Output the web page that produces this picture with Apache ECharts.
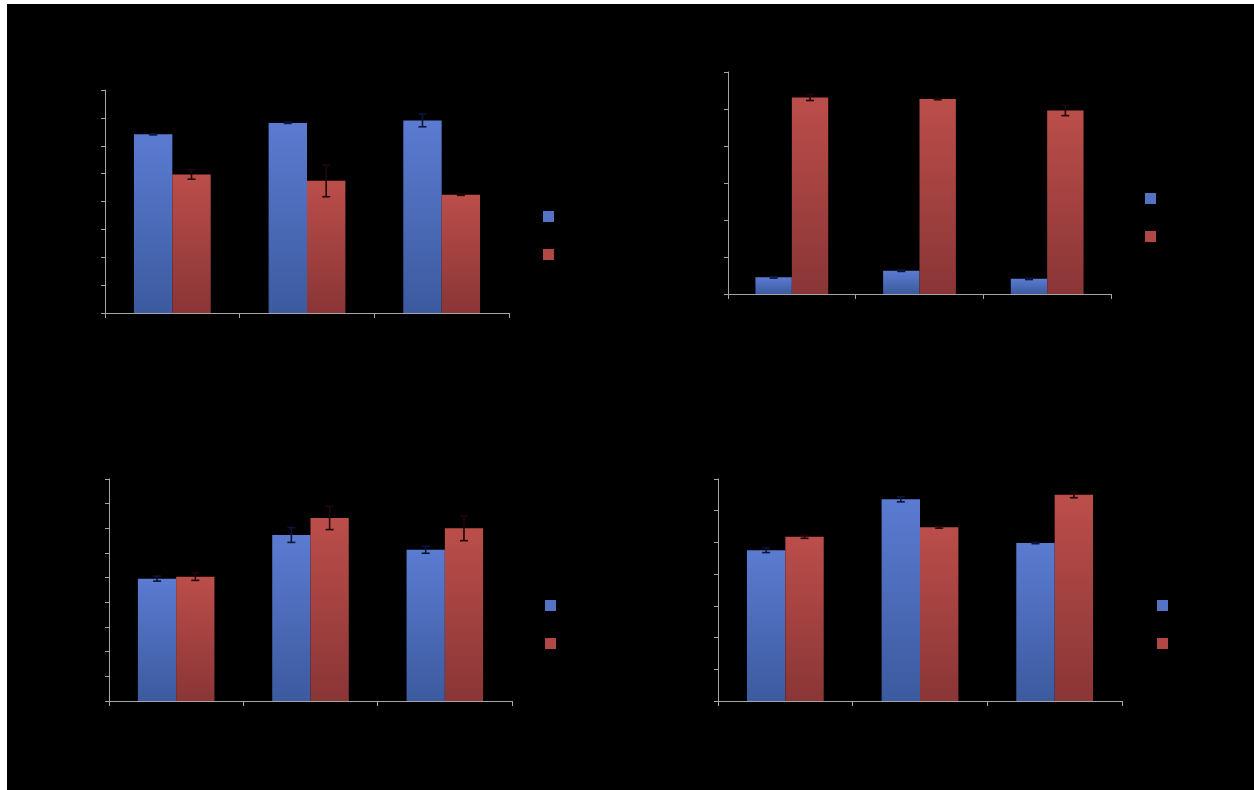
<!DOCTYPE html>
<html>
<head>
<meta charset="utf-8">
<script src="https://cdn.jsdelivr.net/npm/echarts@6/dist/echarts.min.js"></script>
<style>
  html, body { margin: 0; padding: 0; background: #ffffff; width: 1254px; height: 790px; overflow: hidden; }
  #chart { position: absolute; left: 7px; top: 4px; width: 1247px; height: 786px; }
</style>
</head>
<body>
<div id="chart"></div>
<script>
// ---- data ----
const categories = ['A', 'B', 'C'];
const seriesNames = ['Series 1', 'Series 2'];

const p1Blue = [6.41, 6.82, 6.91];
const p1BlueErr = [0.02, 0.02, 0.23];
const p1Red = [4.97, 4.74, 4.24];
const p1RedErr = [0.17, 0.57, 0.02];

const p2Blue = [0.45, 0.63, 0.41];
const p2BlueErr = [0.02, 0.02, 0.02];
const p2Red = [5.31, 5.27, 4.96];
const p2RedErr = [0.08, 0.02, 0.14];

const p3Blue = [4.96, 6.73, 6.13];
const p3BlueErr = [0.10, 0.30, 0.14];
const p3Red = [5.04, 7.42, 7.00];
const p3RedErr = [0.15, 0.47, 0.50];

const p4Blue = [4.75, 6.36, 4.98];
const p4BlueErr = [0.07, 0.08, 0.02];
const p4Red = [5.18, 5.48, 6.50];
const p4RedErr = [0.05, 0.03, 0.09];

const yMaxes = [8, 6, 9, 7];

// ---- layout ----
const OX = 7, OY = 4;
const grids = [
  { left: 105, top: 90, width: 404, height: 223 },
  { left: 728, top: 72, width: 383, height: 222 },
  { left: 109, top: 479, width: 403, height: 222 },
  { left: 718, top: 479, width: 404, height: 222 }
];
const legendPos = [
  { left: 543, top: 211 },
  { left: 1145, top: 193 },
  { left: 545, top: 600 },
  { left: 1157, top: 600 }
];
const panels = [
  [p1Blue, p1BlueErr, p1Red, p1RedErr],
  [p2Blue, p2BlueErr, p2Red, p2RedErr],
  [p3Blue, p3BlueErr, p3Red, p3RedErr],
  [p4Blue, p4BlueErr, p4Red, p4RedErr]
];

const blueGrad = new echarts.graphic.LinearGradient(0, 0, 0, 1, [
  { offset: 0, color: '#5b7bd2' }, { offset: 1, color: '#3c5a9e' }
]);
const redGrad = new echarts.graphic.LinearGradient(0, 0, 0, 1, [
  { offset: 0, color: '#bb4e4a' }, { offset: 1, color: '#8a3536' }
]);
const errColors = ['#0c1538', '#220606'];
const axisColor = '#a6a6a6';
const GAP = 0.43;

const option = {
  backgroundColor: '#000000',
  animation: false,
  grid: [], xAxis: [], yAxis: [], series: [], legend: []
};

function errRender(side, vals, errs) {
  return function (params, api) {
    const i = api.value(0);
    const v = vals[i], e = errs[i];
    const catW = api.size([1, 0])[0];
    const barW = catW * (1 - GAP) / 2;
    const c = api.coord([i, v]);
    const x = c[0] + (side === 0 ? -barW / 2 : barW / 2);
    const yTop = api.coord([i, v + e])[1];
    const yBot = api.coord([i, v - e])[1];
    const cap = 4;
    const st = { stroke: errColors[side], lineWidth: 1.6 };
    return {
      type: 'group',
      children: [
        { type: 'line', shape: { x1: x, y1: yTop, x2: x, y2: yBot }, style: st },
        { type: 'line', shape: { x1: x - cap, y1: yTop, x2: x + cap, y2: yTop }, style: st },
        { type: 'line', shape: { x1: x - cap, y1: yBot, x2: x + cap, y2: yBot }, style: st }
      ]
    };
  };
}

panels.forEach(function (p, k) {
  const g = grids[k];
  option.grid.push({ left: g.left - OX, top: g.top - OY, width: g.width, height: g.height, containLabel: false });
  option.xAxis.push({
    type: 'category', gridIndex: k, data: categories,
    axisLine: { lineStyle: { color: axisColor, width: 1 } },
    axisTick: { show: true, length: 5, lineStyle: { color: axisColor } },
    axisLabel: { show: false },
    splitLine: { show: false }
  });
  option.yAxis.push({
    type: 'value', gridIndex: k, min: 0, max: yMaxes[k], interval: 1,
    axisLine: { show: true, lineStyle: { color: axisColor, width: 1 } },
    axisTick: { show: true, length: 4, lineStyle: { color: axisColor } },
    axisLabel: { show: false },
    splitLine: { show: false }
  });
  option.series.push({
    name: seriesNames[0], type: 'bar', xAxisIndex: k, yAxisIndex: k,
    data: p[0], barGap: '0%', barCategoryGap: (GAP * 100) + '%',
    itemStyle: { color: blueGrad }
  });
  option.series.push({
    name: seriesNames[1], type: 'bar', xAxisIndex: k, yAxisIndex: k,
    data: p[2], barGap: '0%', barCategoryGap: (GAP * 100) + '%',
    itemStyle: { color: redGrad }
  });
  option.series.push({
    type: 'custom', xAxisIndex: k, yAxisIndex: k, z: 5,
    data: categories.map(function (c, i) { return [i]; }),
    renderItem: errRender(0, p[0], p[1])
  });
  option.series.push({
    type: 'custom', xAxisIndex: k, yAxisIndex: k, z: 5,
    data: categories.map(function (c, i) { return [i]; }),
    renderItem: errRender(1, p[2], p[3])
  });
  const lp = legendPos[k];
  option.legend.push({
    orient: 'vertical', left: lp.left - OX, top: lp.top - OY, padding: 0,
    itemWidth: 11, itemHeight: 11, itemGap: 27, icon: 'rect',
    selectedMode: false,
    textStyle: { color: '#000000', fontSize: 10, lineHeight: 11 },
    data: [
      { name: seriesNames[0], itemStyle: { color: '#5573c4' } },
      { name: seriesNames[1], itemStyle: { color: '#b04846' } }
    ]
  });
});

const chart = echarts.init(document.getElementById('chart'), null, { renderer: 'canvas' });
chart.setOption(option);
</script>
</body>
</html>
